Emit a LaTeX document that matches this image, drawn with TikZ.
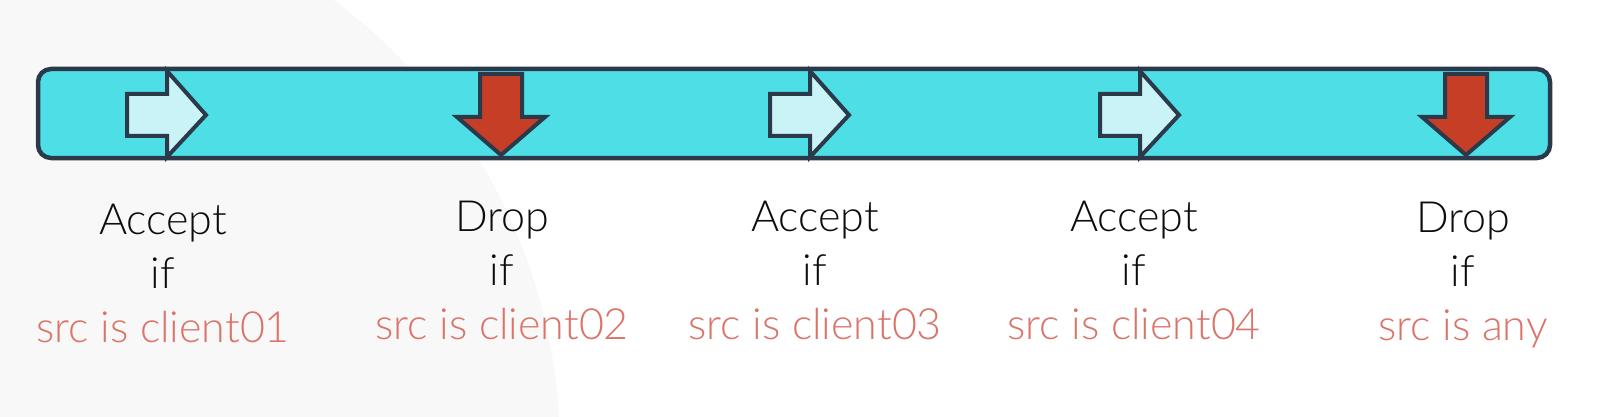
\documentclass[tikz,border=0pt]{standalone}
\usepackage{fontspec}
\setmainfont{Lato}[UprightFont=* Light]
\definecolor{barfill}{HTML}{4EDFE6}
\definecolor{edge}{HTML}{2B3A4B}
\definecolor{acceptfill}{HTML}{C9F3F6}
\definecolor{dropfill}{HTML}{C73E27}
\definecolor{srcred}{HTML}{DA7368}
\definecolor{bgshade}{HTML}{F8F8F8}
\tikzset{
  bar/.style={draw=edge, line width=4.5pt, fill=barfill, rounded corners=13pt},
  acceptarrow/.style={draw=edge, line width=4pt, fill=acceptfill, line join=miter},
  droparrow/.style={draw=edge, line width=4pt, fill=dropfill, line join=miter},
  rule/.style={align=center, font=\fontsize{43}{54}\selectfont, text=black!95, inner sep=0pt},
}
\newcommand{\srctext}[1]{\textcolor{srcred}{#1}}
\begin{document}
\begin{tikzpicture}[x=1pt,y=-1pt]
  \useasboundingbox (0,0) rectangle (1600,417);
  \fill[white] (0,0) rectangle (1600,417);
  \begin{scope}
    \clip (0,0) rectangle (1600,417);
    \fill[bgshade] (0,450) circle[radius=560];
  \end{scope}
  % bar
  \draw[bar] (38,69) rectangle (1550,158);
  % accept arrows (b = head base x)
  \foreach \b in {167,810,1140}{
    \draw[acceptarrow] (\b-40,94) -- (\b,94) -- (\b,71) -- (\b+39,115) -- (\b,157) -- (\b,136) -- (\b-40,136) -- cycle;
  }
  % drop arrows (c = centre x)
  \foreach \c in {501,1466}{
    \draw[droparrow] (\c-21,74) -- (\c+21,74) -- (\c+21,117) -- (\c+44,117) -- (\c,155) -- (\c-44,117) -- (\c-21,117) -- cycle;
  }
  % labels
  \node[rule] (r1) at (163,273) {Accept\\if\\\srctext{src is client01}};
  \node[rule] (r2) at (502,270) {Drop\\if\\\srctext{src is client02}};
  \node[rule] (r3) at (815,270) {Accept\\if\\\srctext{src is client03}};
  \node[rule] (r4) at (1134,270) {Accept\\if\\\srctext{src is client04}};
  \node[rule] (r5) at (1463,275) {Drop\\if\\\srctext{src is any}};
\end{tikzpicture}
\end{document}
